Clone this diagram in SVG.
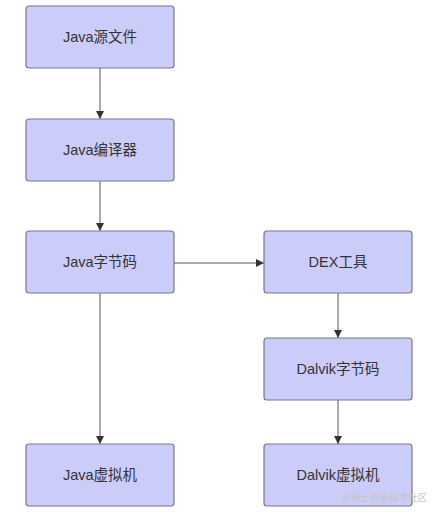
<svg xmlns="http://www.w3.org/2000/svg" width="439" height="514" viewBox="0 0 439 514">
<style>
.node rect{fill:#ccccfa;stroke:#77778a;stroke-width:1.2}
.node text{font-family:"Liberation Sans","Noto Sans CJK SC",sans-serif;font-size:14.5px;fill:#333;text-anchor:middle;dominant-baseline:central}
.edge{stroke:#555;stroke-width:1;fill:none;marker-end:url(#arr)}
.wm{font-family:"Noto Sans CJK SC",sans-serif;font-size:9.5px;fill:#c4c4c4}
</style>
<defs>
<marker id="arr" viewBox="0 0 10 10" refX="10" refY="5" markerWidth="8" markerHeight="8" orient="auto" markerUnits="userSpaceOnUse">
<path d="M0,0 L10,5 L0,10 z" fill="#333"/>
</marker>
</defs>
<rect width="439" height="514" fill="#fff"/>
<g id="connectors">
<line class="edge" x1="100" y1="68" x2="100" y2="119"/>
<line class="edge" x1="100" y1="181" x2="100" y2="231"/>
<line class="edge" x1="100" y1="293" x2="100" y2="444"/>
<line class="edge" x1="174" y1="263" x2="264" y2="263"/>
<line class="edge" x1="338" y1="293" x2="338" y2="338"/>
<line class="edge" x1="338" y1="400" x2="338" y2="444"/>
</g>
<g id="n1" class="node"><rect x="26" y="6" width="148" height="62" rx="3"/><text x="100" y="37">Java源文件</text></g>
<g id="n2" class="node"><rect x="26" y="119" width="148" height="62" rx="3"/><text x="100" y="150">Java编译器</text></g>
<g id="n3" class="node"><rect x="26" y="231" width="148" height="62" rx="3"/><text x="100" y="262">Java字节码</text></g>
<g id="n4" class="node"><rect x="264" y="231" width="148" height="62" rx="3"/><text x="338" y="262">DEX工具</text></g>
<g id="n5" class="node"><rect x="264" y="338" width="148" height="62" rx="3"/><text x="338" y="369">Dalvik字节码</text></g>
<g id="n6" class="node"><rect x="26" y="444" width="148" height="62" rx="3"/><text x="100" y="475">Java虚拟机</text></g>
<g id="n7" class="node"><rect x="264" y="444" width="148" height="62" rx="3"/><text x="338" y="475">Dalvik虚拟机</text></g>
<text class="wm" x="342" y="501">@稀土掘金技术社区</text>
</svg>
